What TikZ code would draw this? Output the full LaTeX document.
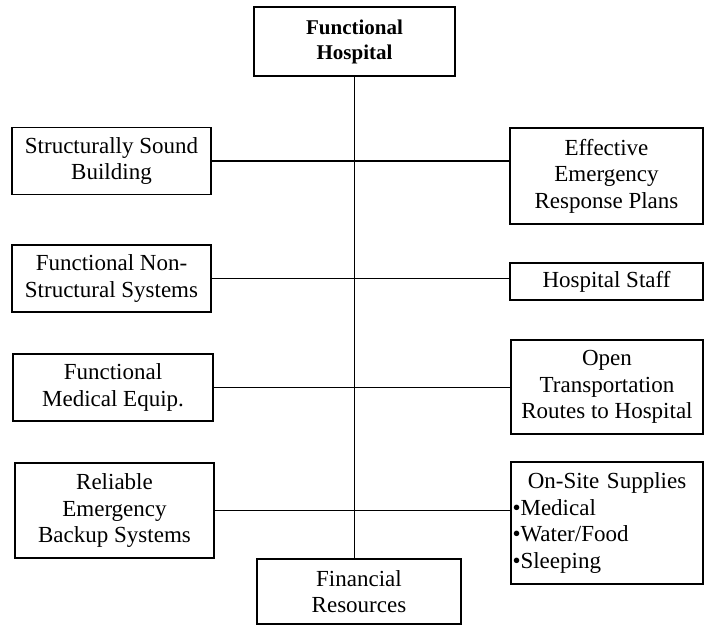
\documentclass[tikz,border=0pt]{standalone}
\usepackage{fontspec}
\setmainfont{Liberation Serif}
\begin{document}
\begin{tikzpicture}[x=1pt,y=-1pt,
  box/.style={draw, line width=1.2pt, rectangle, inner sep=0pt, align=center,
    font=\fontsize{23}{26.5}\selectfont},
  topbox/.style={box, font=\fontsize{21}{25}\selectfont\bfseries},
  conn/.style={line width=1.2pt}]
\useasboundingbox (0,0) rectangle (704,626);
\node[topbox, minimum width=201pt, minimum height=69pt] (top) at (354.5,41.5) {Functional\\Hospital};
\node[box, minimum width=204pt, minimum height=65pt] (bot) at (359,591.5) {Financial\\Resources};
\node[box, minimum width=199pt, minimum height=67pt] (l1) at (111.5,161) {Structurally Sound\\Building};
\node[box, minimum width=199pt, minimum height=67pt] (l2) at (111.5,278.5) {Functional Non-\\Structural Systems};
\node[box, minimum width=200pt, minimum height=67pt] (l3) at (113,387.5) {Functional\\Medical Equip.};
\node[box, minimum width=199pt, minimum height=95pt] (l4) at (114.5,510.5) {Reliable\\Emergency\\Backup Systems};
\node[box, minimum width=193pt, minimum height=96pt] (r1) at (606.5,176) {Effective\\Emergency\\Response Plans};
\node[box, minimum width=193pt, minimum height=37pt] (r2) at (606.5,281.5) {Hospital Staff};
\node[box, minimum width=192pt, minimum height=94pt] (r3) at (607,387) {Open\\Transportation\\Routes to Hospital};
\node[box, minimum width=192pt, minimum height=122pt, align=left, text width=189pt] (r4) at (607,523)
  {\makebox[\linewidth][c]{On-Site Supplies}\\•Medical\\•Water/Food\\•Sleeping};
\draw[conn] (top.south) -- (top.south |- bot.north);
\draw[conn] (l1.east) -- (l1.east -| r1.west);
\draw[conn] (l2.east) -- (l2.east -| r2.west);
\draw[conn] (l3.east) -- (l3.east -| r3.west);
\draw[conn] (l4.east) -- (l4.east -| r4.west);
\end{tikzpicture}
\end{document}
